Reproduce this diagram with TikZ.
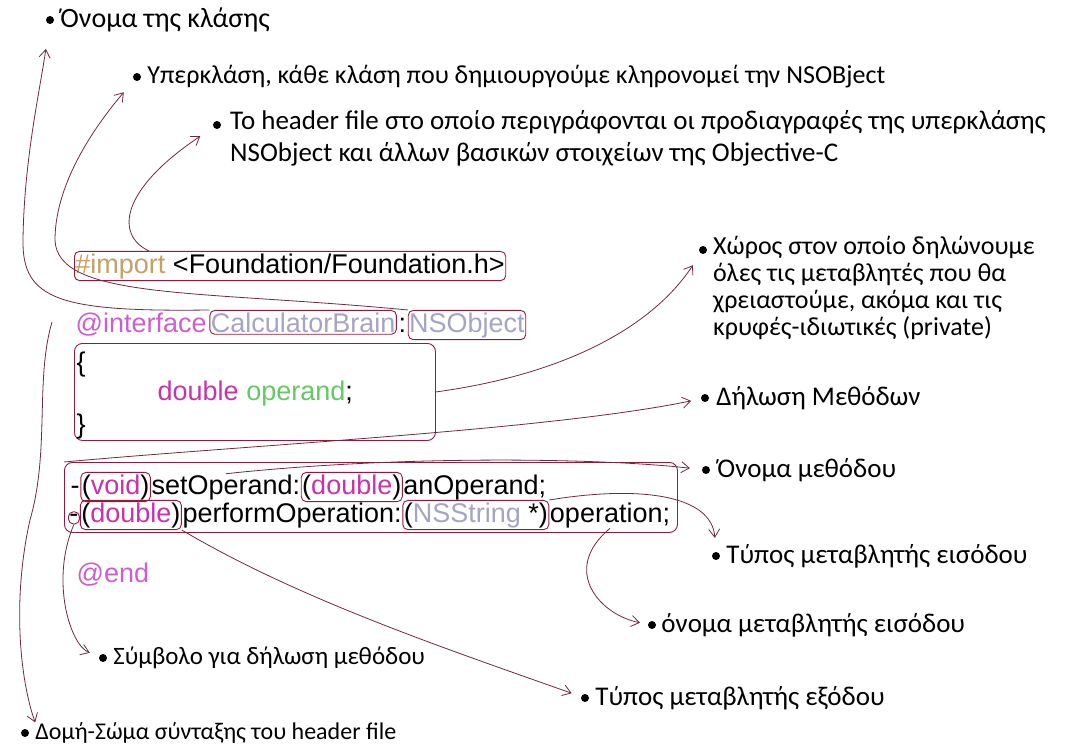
\documentclass[tikz,border=0pt]{standalone}
\usepackage{fontspec}
\setmainfont{Carlito}
\newfontfamily\codefont{Liberation Sans}
\usetikzlibrary{positioning,arrows.meta}

\definecolor{boxred}{RGB}{150,25,60}
\definecolor{pen}{RGB}{105,45,60}
\definecolor{importcol}{RGB}{196,160,100}
\definecolor{keycol}{RGB}{205,95,205}
\definecolor{typecol}{RGB}{200,50,170}
\definecolor{classcol}{RGB}{165,165,195}
\definecolor{varcol}{RGB}{100,200,100}

\tikzset{
  code/.style={font=\codefont\fontsize{27}{31}\selectfont, inner sep=0.5pt},
  codebox/.style={code, draw=boxred, line width=0.9pt, rounded corners=5pt, inner xsep=1pt, inner ysep=2pt},
  region/.style={draw=boxred, line width=0.9pt, rounded corners=8pt},
  dot/.style={circle, fill=black, inner sep=0pt, minimum size=8pt},
  lbl/.style={font=\fontsize{27}{31}\selectfont, inner sep=0pt, align=left},
  conn/.style={draw=pen, line width=0.8pt, -{Straight Barb[length=8pt,width=11pt]}}
}

\begin{document}
\begin{tikzpicture}[x=1pt, y=-1pt]
\fill[white] (0,0) rectangle (1069,744);
\useasboundingbox (0,0) rectangle (1069,744);

% the header file
\node[codebox, anchor=base west] (imp) at (74,273)
  {\textcolor{importcol}{\#import} <Foundation/Foundation.h>};

\node[code, anchor=base west, text=keycol] (iface) at (75,332) {@interface};
\node[codebox, base right=2pt of iface, text=classcol] (cname) {CalculatorBrain};
\node[code, base right=1pt of cname] (colon) {:};
\node[codebox, base right=1pt of colon, text=classcol] (super) {NSObject};

\node[region, minimum width=361pt, minimum height=97pt, anchor=north west] (ivars) at (74,343) {};
\node[code, anchor=base west] (lbrace) at (76,371) {\{};
\node[code, anchor=base west] (decl) at (157,400)
  {\textcolor{typecol}{double} \textcolor{varcol}{operand};};
\node[code, anchor=base west] (rbrace) at (76,433) {\}};

\node[region, minimum width=613pt, minimum height=70pt, anchor=north west] (methods) at (64,462) {};
\node[code, anchor=base west] (m1dash) at (70,494) {-};
\node[codebox, base right=0pt of m1dash] (m1ret) {(\textcolor{typecol}{void})};
\node[code, base right=0pt of m1ret] (m1name) {setOperand:};
\node[codebox, base right=0pt of m1name] (m1arg) {(\textcolor{typecol}{double})};
\node[code, base right=0pt of m1arg] (m1var) {anOperand;};

\node[codebox, anchor=base west] (m2dash) at (68,522) {-};
\node[codebox, base right=0pt of m2dash] (m2ret) {(\textcolor{typecol}{double})};
\node[code, base right=0pt of m2ret] (m2name) {performOperation:};
\node[codebox, base right=0pt of m2name] (m2arg) {(\textcolor{classcol}{NSString} *)};
\node[code, base right=0pt of m2arg] (m2var) {operation;};

\node[code, anchor=base west, text=keycol] (endkw) at (76,582) {@end};

% the notes
\node[dot] (bclass) at (50,20) {};
\node[lbl, right=6pt of bclass, font=\fontsize{28}{32}\selectfont] (lclass) {Όνομα της κλάσης};
\node[dot] (bsuper) at (137,77) {};
\node[lbl, right=6pt of bsuper, font=\fontsize{26}{30}\selectfont] (lsuper)
  {Υπερκλάση, κάθε κλάση που δημιουργούμε κληρονομεί την NSOBject};
\node[dot] (bheader) at (217,125) {};
\node[lbl, anchor=north west, font=\fontsize{27}{32}\selectfont] (lheader) at (230,110)
  {Το header file στο οποίο περιγράφονται οι προδιαγραφές της υπερκλάσης\\
   NSObject και άλλων βασικών στοιχείων της Objective-C};
\node[dot] (bvars) at (703,250) {};
\node[lbl, anchor=north west, font=\fontsize{26}{27}\selectfont] (lvars) at (713,236)
  {Χώρος στον οποίο δηλώνουμε\\
   όλες τις μεταβλητές που θα\\
   χρειαστούμε, ακόμα και τις\\
   κρυφές-ιδιωτικές (private)};
\node[dot] (bmeth) at (705,398) {};
\node[lbl, right=7pt of bmeth] (lmeth) {Δήλωση Μεθόδων};
\node[dot] (bmname) at (706,470) {};
\node[lbl, right=7pt of bmname] (lmname) {Όνομα μεθόδου};
\node[dot] (bintype) at (716,556) {};
\node[lbl, right=6pt of bintype] (lintype) {Τύπος μεταβλητής εισόδου};
\node[dot] (binname) at (652,625) {};
\node[lbl, right=5pt of binname] (linname) {όνομα μεταβλητής εισόδου};
\node[dot] (bsym) at (103,658) {};
\node[lbl, right=6pt of bsym, font=\fontsize{25}{29}\selectfont] (lsym) {Σύμβολο για δήλωση μεθόδου};
\node[dot] (bouttype) at (585,698) {};
\node[lbl, right=6pt of bouttype] (louttype) {Τύπος μεταβλητής εξόδου};
\node[dot] (bstruct) at (25,733) {};
\node[lbl, right=6pt of bstruct, font=\fontsize{24}{28}\selectfont] (lstruct) {Δομή-Σώμα σύνταξης του header file};

% hand drawn arrows
\draw[conn, shorten >=25pt] (cname.north west) .. controls (60,312) and (22,300) .. (23,240)
  .. controls (24,160) and (40,90) .. (bclass);
\draw[conn, shorten >=16pt] (super.north west) .. controls (200,290) and (57,300) .. (55,240)
  .. controls (55,180) and (100,120) .. (bsuper);
\draw[conn, shorten >=16pt] ([xshift=75pt]imp.north west) .. controls (115,235) and (120,190) .. (bheader);
\draw[conn, shorten >=14pt] (ivars.east) .. controls (560,375) and (650,330) .. (bvars);
\draw[conn, shorten >=10pt] (methods.north west) .. controls (250,445) and (550,430) .. (bmeth);
\draw[conn, shorten >=12pt] (m1name.north) .. controls (400,455) and (600,458) .. (bmname);
\draw[conn, shorten >=14pt] (m2arg.north east) .. controls (640,485) and (712,495) .. (bintype);
\draw[conn, shorten >=8pt] (m2var.south) .. controls (560,570) and (600,615) .. (binname);
\draw[conn, shorten >=10pt] (m2dash.south) .. controls (50,580) and (70,645) .. (bsym);
\draw[conn, shorten >=10pt] (m2ret.south east) .. controls (300,600) and (450,650) .. (bouttype);
\coordinate (structtop) at (52,322);
\draw[conn] (structtop) .. controls (35,380) and (50,450) .. (30,520)
  .. controls (12,600) and (20,680) .. (lstruct.north west);
\end{tikzpicture}
\end{document}
